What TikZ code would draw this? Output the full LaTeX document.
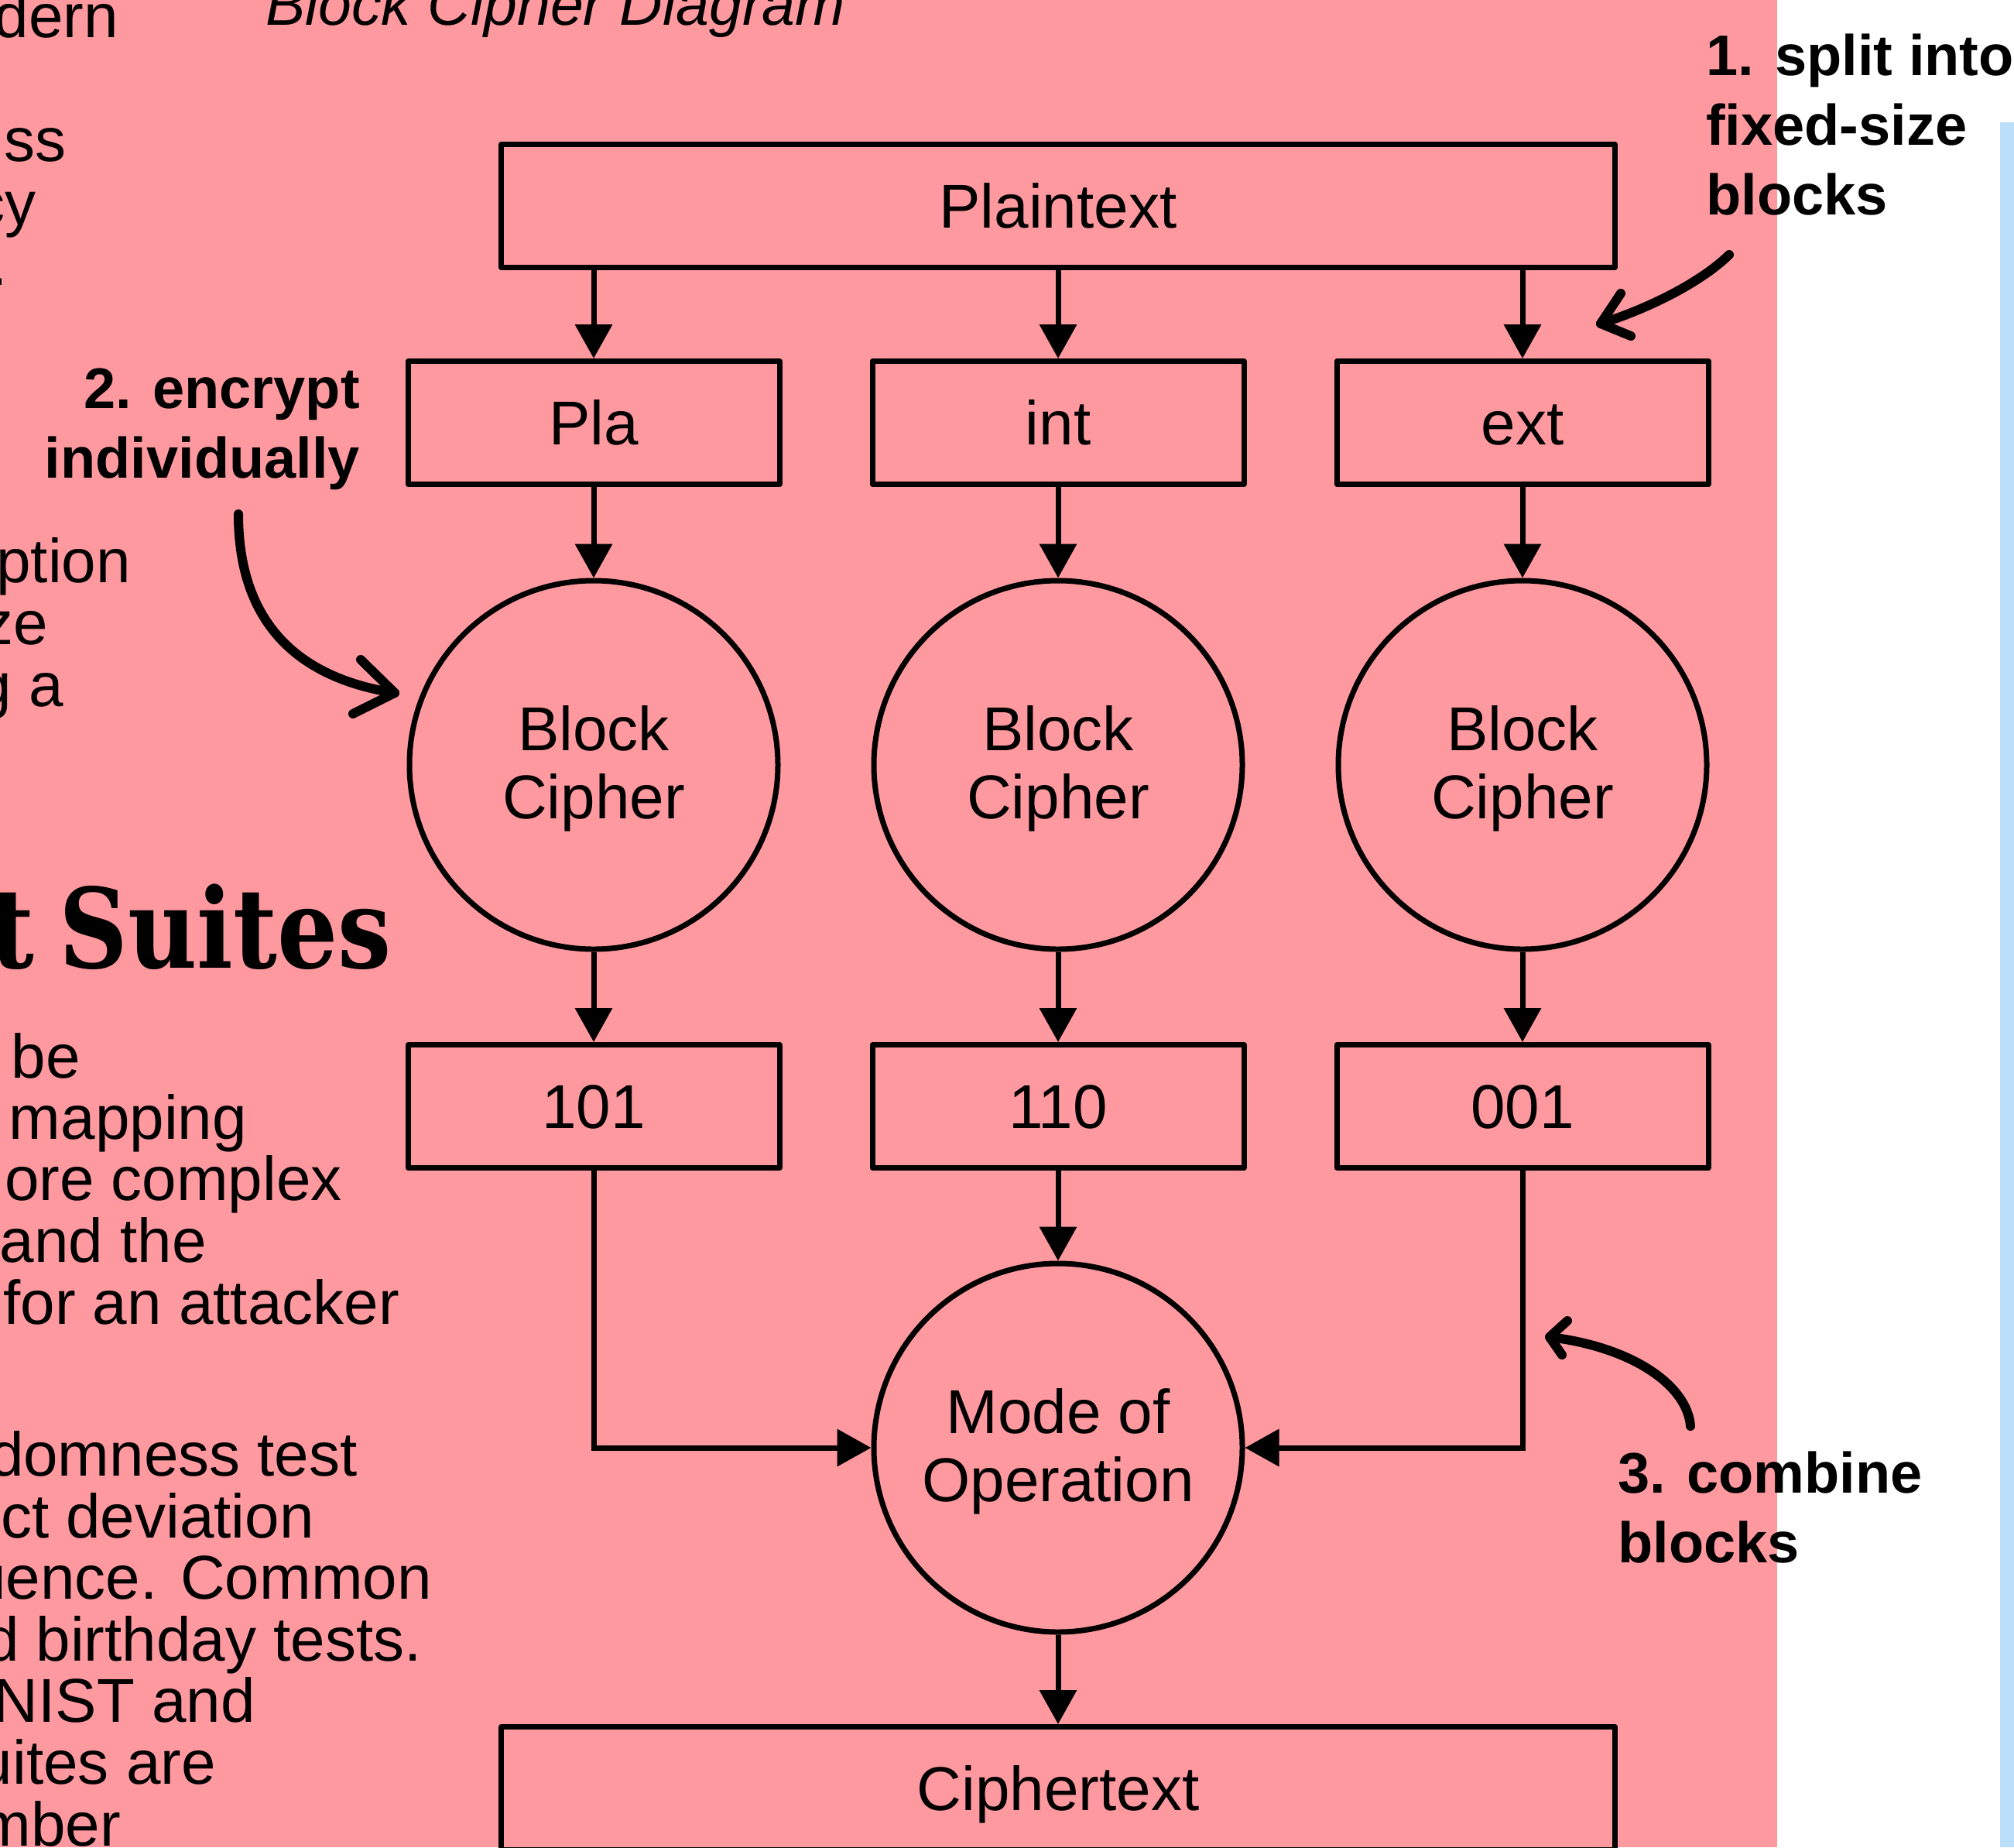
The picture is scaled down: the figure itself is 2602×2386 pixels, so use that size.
\documentclass[tikz,border=0pt]{standalone}
\usepackage{fontspec}
\setmainfont{Liberation Sans}
\newfontfamily\slabfont{DejaVu Serif}
\usetikzlibrary{arrows.meta}
\definecolor{bgpink}{RGB}{255,153,160}
\definecolor{stripblue}{RGB}{187,222,251}
\newcommand\linesL[1]{\vtop{\halign{##\hfil\cr#1\crcr}}}
\newcommand\linesR[1]{\vtop{\halign{\hfil##\cr#1\crcr}}}
\newcommand\linesC[1]{\vtop{\halign{\hfil##\hfil\cr#1\crcr}}}
\begin{document}
\begin{tikzpicture}[x=1pt,y=-1pt,
  stepbox/.style={draw, rectangle, line width=7pt, line join=round,
    minimum width=480pt, minimum height=159pt, inner sep=0pt,
    text height=57pt, text depth=0pt, font=\fontsize{80}{88}\selectfont},
  widebox/.style={stepbox, minimum width=1439pt},
  roundop/.style={draw, circle, line width=7pt, minimum size=476pt, inner sep=0pt,
    text height=57pt, text depth=94pt, font=\fontsize{80}{88}\selectfont},
  conn/.style={line width=7pt, -{Triangle[length=44pt,width=47pt]}},
  annot/.style={line width=12pt, line cap=round, line join=round},
  body/.style={anchor=base east, inner sep=0pt, font=\fontsize{80}{80}\selectfont},
  note/.style={inner sep=0pt, font=\bfseries\fontsize{74}{90}\selectfont}]
\useasboundingbox (0,0) rectangle (2602,2386);
\clip (0,0) rectangle (2602,2386);
% backgrounds
\fill[white] (0,0) rectangle (2602,2386);
\fill[bgpink] (0,0) rectangle (2296,2386);
\fill[stripblue] (2584,158) rectangle (2602,2386);

% title
\node[anchor=base west, inner sep=0pt, font=\itshape\fontsize{77}{80}\selectfont] (title) at (343,32) {Block Cipher Diagram};

% left-side clipped text
\node[body] (t1) at (153,48) {dern};
\node[body] (t2) at (86,208) {ss};
\node[body] (t3) at (47,290) {cy};
\node[body] (t4) at (10,368) {.};
\node[body] (t5) at (169,752) {ption};
\node[body] (t6) at (62,832) {ze};
\node[body] (t7) at (82,912) {g a};
\node[anchor=base east, inner sep=0pt, font=\slabfont\bfseries\fontsize{143}{143}\selectfont] (suites) at (506,1250) {\scalebox{0.86}[1]{t\hspace{-12pt} Suites}};
\node[body] (u1) at (104,1392) {be};
\node[body] (u2) at (319,1471) {mapping};
\node[body] (u3) at (442,1550) {ore complex};
\node[body] (u4) at (267,1630) {and the};
\node[body] (u5) at (516,1710) {for an attacker};
\node[body] (v1) at (462,1906) {domness test};
\node[body] (v2) at (406,1986) {ct deviation};
\node[body] (v3) at (558,2065) {uence. Common};
\node[body] (v4) at (545,2145) {d birthday tests.};
\node[body] (v5) at (330,2224) {NIST and};
\node[body] (v6) at (279,2304) {uites are};
\node[body] (v7) at (156,2384) {mber};

% diagram nodes
\node[widebox] (plain) at (1367,266) {Plaintext};
\node[stepbox] (pla) at (767,546) {Pla};
\node[stepbox] (int) at (1367,546) {int};
\node[stepbox] (ext) at (1967,546) {ext};
\node[roundop] (bc1) at (767,988) {\linesC{Block\cr Cipher}};
\node[roundop] (bc2) at (1367,988) {\linesC{Block\cr Cipher}};
\node[roundop] (bc3) at (1967,988) {\linesC{Block\cr Cipher}};
\node[stepbox] (o1) at (767,1429) {101};
\node[stepbox] (o2) at (1367,1429) {110};
\node[stepbox] (o3) at (1967,1429) {001};
\node[roundop] (mode) at (1367,1870) {\linesC{Mode of\cr Operation}};
\node[widebox] (cipher) at (1367,2310) {Ciphertext};

% connectors
\draw[conn] (plain.south -| pla.north) -- (pla.north);
\draw[conn] (plain.south -| int.north) -- (int.north);
\draw[conn] (plain.south -| ext.north) -- (ext.north);
\draw[conn] (pla) -- (bc1);
\draw[conn] (int) -- (bc2);
\draw[conn] (ext) -- (bc3);
\draw[conn] (bc1) -- (o1);
\draw[conn] (bc2) -- (o2);
\draw[conn] (bc3) -- (o3);
\draw[conn] (o2) -- (mode);
\draw[conn] (o1.south) |- (mode.west);
\draw[conn] (o3.south) |- (mode.east);
\draw[conn] (mode.south) -- (mode.south |- cipher.north);

% annotations
\node[note, anchor=base west] (n1) at (2204,97) {\linesL{1. split into\cr fixed-size\cr blocks}};
\node[note, anchor=base east] (n2) at (465,527) {\linesR{2. encrypt\cr individually}};
\node[note, anchor=base west] (n3) at (2090,1928) {\linesL{3. combine\cr blocks}};

\coordinate (a1s) at (2234,329);
\coordinate (a1t) at (2068,418);
\draw[annot] (a1s) .. controls (2196,366) and (2128,399) .. (a1t);
\draw[annot] (a1t) ++(26,-39) -- (a1t) -- ++(39,16);

\coordinate (a2s) at (308,664);
\coordinate (a2t) at (510,895);
\draw[annot] (a2s) .. controls (308,800) and (380,875) .. (a2t);
\draw[annot] (a2t) ++(-44,-43) -- (a2t) -- ++(-54,27);

\coordinate (a3s) at (2184,1842);
\coordinate (a3t) at (2002,1727);
\draw[annot] (a3s) .. controls (2180,1790) and (2110,1740) .. (a3t);
\draw[annot] (a3t) ++(23,-21) -- (a3t) -- ++(16,23);
\end{tikzpicture}
\end{document}
